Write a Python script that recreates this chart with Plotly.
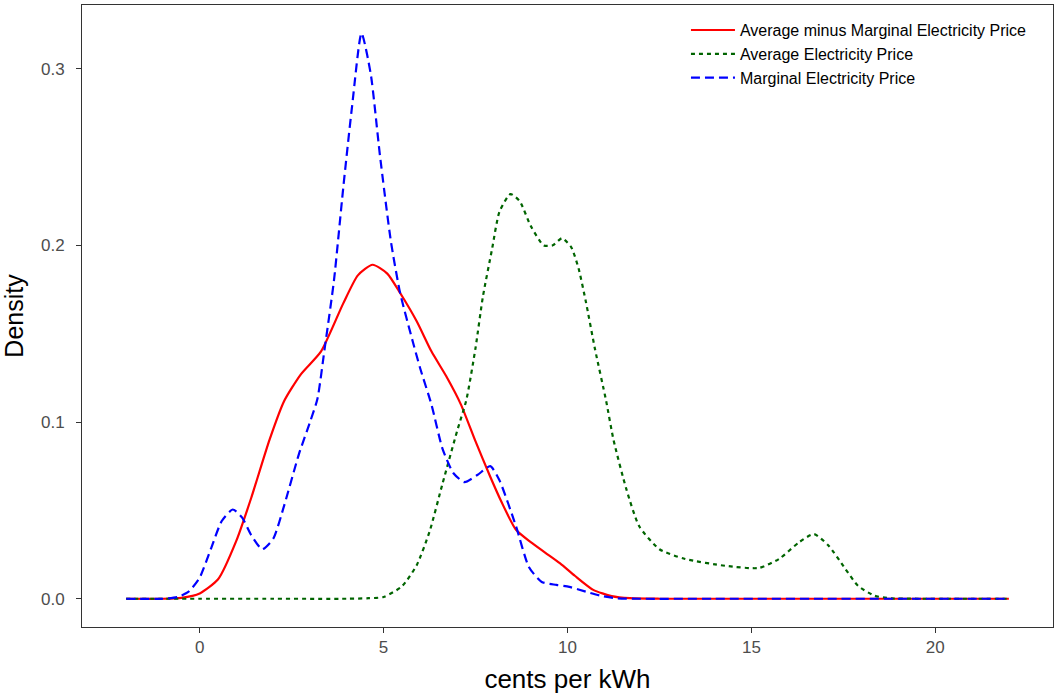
import plotly.graph_objects as go

# Average minus Marginal Electricity Price
red_x = [-2, -1, -0.5, 0, 0.5, 1.0, 1.4, 1.9, 2.3, 2.75, 3.3, 3.9, 4.3, 4.7, 5.1, 5.45, 5.9, 6.3, 6.7,
         7.1, 7.5, 7.9, 8.2, 8.6, 9.0, 9.4, 9.8, 10.2, 10.7, 11.2, 11.7, 12.5, 14, 17, 20, 22]
red_y = [0, 0, 0.0005, 0.003, 0.011, 0.033, 0.057, 0.09, 0.112, 0.127, 0.140, 0.167, 0.183, 0.189, 0.184,
         0.173, 0.157, 0.140, 0.126, 0.110, 0.089, 0.069, 0.055, 0.039, 0.032, 0.026, 0.020, 0.013, 0.005,
         0.0015, 0.0003, 0, 0, 0, 0, 0]

# Average Electricity Price
green_x = [-2, 0, 2, 4.0, 4.6, 5.0, 5.5, 5.9, 6.25, 6.6, 7.0, 7.25, 7.5, 7.7, 7.95, 8.15, 8.45, 8.7, 9.0,
           9.35, 9.6, 9.85, 10.1, 10.3, 10.5, 10.75, 11.05, 11.25, 11.6, 11.95, 12.5, 13.2, 14.3, 15.2,
           15.75, 16.3, 16.7, 17.1, 17.55, 17.9, 18.35, 18.8, 19.5, 21, 22]
green_y = [0, 0, 0, 0, 0.0003, 0.001, 0.007, 0.019, 0.038, 0.065, 0.095, 0.1125, 0.142, 0.171, 0.198, 0.219,
           0.229, 0.225, 0.211, 0.200, 0.200, 0.204, 0.199, 0.187, 0.168, 0.141, 0.112, 0.090, 0.062, 0.041,
           0.028, 0.0225, 0.0186, 0.0174, 0.0225, 0.032, 0.0366, 0.030, 0.017, 0.0073, 0.0017, 0.0002, 0, 0, 0]

# Marginal Electricity Price
blue_x = [-2, -1, -0.6, -0.3, 0, 0.3, 0.6, 0.9, 1.15, 1.4, 1.7, 2.0, 2.3, 2.7, 3.0, 3.2, 3.4, 3.65, 3.9,
          4.15, 4.4, 4.65, 4.9, 5.2, 5.45, 5.8, 6.0, 6.3, 6.6, 6.9, 7.2, 7.55, 7.9, 8.15, 8.6, 8.95, 9.3,
          9.7, 10.05, 10.5, 10.9, 11.3, 12, 14, 17, 20, 22]
blue_y = [0, 0, 0.001, 0.004, 0.012, 0.028, 0.044, 0.0505, 0.046, 0.036, 0.028, 0.034, 0.053, 0.082, 0.100,
          0.113, 0.142, 0.180, 0.232, 0.280, 0.320, 0.297, 0.251, 0.202, 0.173, 0.145, 0.130, 0.110, 0.085,
          0.071, 0.066, 0.070, 0.075, 0.067, 0.041, 0.018, 0.0095, 0.0078, 0.0067, 0.004, 0.0017, 0.0003,
          0, 0, 0, 0, 0]

x_ticks = [0, 5, 10, 15, 20]
y_ticks = [0.0, 0.1, 0.2, 0.3]
y_tick_labels = ["0.0", "0.1", "0.2", "0.3"]

fig = go.Figure()
fig.add_trace(go.Scatter(x=red_x, y=red_y, mode="lines", name="Average minus Marginal Electricity Price",
                         line=dict(color="#FF0000", width=2.2, shape="spline", smoothing=0.6)))
fig.add_trace(go.Scatter(x=green_x, y=green_y, mode="lines", name="Average Electricity Price",
                         line=dict(color="#006400", width=2.2, dash="4px,4px", shape="spline", smoothing=0.6)))
fig.add_trace(go.Scatter(x=blue_x, y=blue_y, mode="lines", name="Marginal Electricity Price",
                         line=dict(color="#0000FF", width=2.2, dash="9px,5px", shape="spline", smoothing=0.6)))

axis_common = dict(showgrid=False, zeroline=False, showline=True, mirror=True, linecolor="#333333",
                   linewidth=1, ticks="outside", ticklen=5, tickwidth=1, tickcolor="#333333",
                   automargin=False,
                   tickfont=dict(family="Liberation Sans", size=17, color="#4d4d4d"))

fig.update_layout(
    width=1054, height=694,
    margin=dict(l=82, r=1, t=5, b=67),
    paper_bgcolor="white", plot_bgcolor="white",
    font=dict(family="Liberation Sans", color="black"),
    xaxis=dict(range=[-3.2, 23.2], tickvals=x_ticks, ticktext=[str(v) for v in x_ticks],
               title=dict(text="cents per kWh", font=dict(size=26, color="black"), standoff=13), **axis_common),
    yaxis=dict(range=[-0.016, 0.336], tickvals=y_ticks, ticktext=y_tick_labels, ticklabelstandoff=8,
               title=dict(text="Density", font=dict(size=25, color="black"), standoff=11), **axis_common),
    legend=dict(x=0.622, y=0.987, xanchor="left", yanchor="top", bgcolor="rgba(0,0,0,0)",
                itemwidth=44,
                font=dict(family="Liberation Sans", size=16, color="black"), tracegroupgap=0),
    showlegend=True,
)

fig.write_html("out.html", config={"displayModeBar": False},
               post_script="document.body.style.margin='0';document.body.style.padding='0';")
